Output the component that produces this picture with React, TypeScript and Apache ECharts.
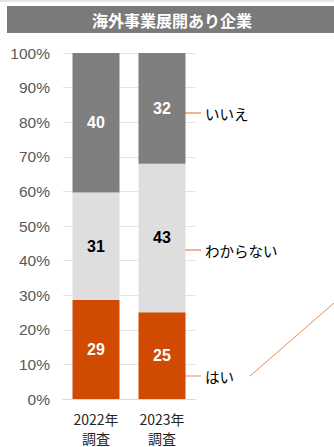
import React, { useEffect, useRef } from "react";
import * as echarts from "echarts";

const categories = ["2022年\n調査", "2023年\n調査"];
const yesValues = [28.6, 25.1];
const unknownValues = [31.1, 42.9];
const noValues = [40.3, 32.0];
const seriesNames = ["はい", "わからない", "いいえ"];
const title = "海外事業展開あり企業";

const JP = "'Noto Sans CJK JP', 'Liberation Sans', sans-serif";
const LAT = "'Liberation Sans', Arial, sans-serif";

export default function App() {
  const ref = useRef<HTMLDivElement>(null);
  useEffect(() => {
    if (!ref.current) return;
    const chart = echarts.init(ref.current, null, { renderer: "svg" });
    const mk = (name: string, data: number[], color: string, labelColor: string) => ({
      name,
      type: "bar",
      stack: "total",
      data,
      barWidth: 47,
      itemStyle: { color },
      label: {
        show: true,
        position: "inside",
        color: labelColor,
        fontFamily: LAT,
        fontWeight: "bold",
        fontSize: 16,
        formatter: (p: any) => String(Math.round(p.value)),
      },
    });
    chart.setOption({
      animation: false,
      grid: { left: 63, right: 139, top: 53, bottom: 44 },
      xAxis: {
        type: "category",
        data: categories,
        axisTick: { show: false },
        axisLine: { lineStyle: { color: "#d9d9d9" } },
        axisLabel: {
          color: "#262626",
          fontFamily: JP,
          fontSize: 14,
          lineHeight: 19,
          margin: 10,
        },
      },
      yAxis: {
        type: "value",
        min: 0,
        max: 100,
        interval: 10,
        axisLabel: {
          formatter: "{value}%",
          color: "#595959",
          fontFamily: LAT,
          fontSize: 15.5,
          margin: 13,
        },
        splitLine: { lineStyle: { color: "#e3e3e3" } },
      },
      series: [
        mk(seriesNames[0], yesValues, "#d04a02", "#ffffff"),
        mk(seriesNames[1], unknownValues, "#dedede", "#000000"),
        mk(seriesNames[2], noValues, "#7f7f7f", "#ffffff"),
      ],
      graphic: [
        { type: "rect", shape: { x: 0, y: 0, width: 334, height: 2 }, style: { fill: "#e4e4e4" } },
        { type: "rect", shape: { x: 7, y: 6, width: 327, height: 27 }, style: { fill: "#7a7a7a" } },
        {
          type: "text",
          x: 172,
          y: 19.5,
          style: {
            text: title,
            fill: "#ffffff",
            font: `bold 16px ${JP}`,
            align: "center",
            verticalAlign: "middle",
          },
        },
        { type: "line", shape: { x1: 179, y1: 113, x2: 201, y2: 113 }, style: { stroke: "#ea8a5e", lineWidth: 1.3 } },
        { type: "line", shape: { x1: 179, y1: 250, x2: 201, y2: 250 }, style: { stroke: "#ea8a5e", lineWidth: 1.3 } },
        { type: "line", shape: { x1: 179, y1: 376, x2: 201, y2: 376 }, style: { stroke: "#f0b090", lineWidth: 1.5 } },
        { type: "line", shape: { x1: 250, y1: 376, x2: 334, y2: 303 }, style: { stroke: "#ea8a5e", lineWidth: 1 } },
        {
          type: "text", x: 205, y: 113,
          style: { text: seriesNames[2], fill: "#000", font: `14.5px ${JP}`, verticalAlign: "middle" },
        },
        {
          type: "text", x: 205, y: 250,
          style: { text: seriesNames[1], fill: "#000", font: `14.5px ${JP}`, verticalAlign: "middle" },
        },
        {
          type: "text", x: 205, y: 376,
          style: { text: seriesNames[0], fill: "#000", font: `14.5px ${JP}`, verticalAlign: "middle" },
        },
      ],
    });
    return () => chart.dispose();
  }, []);
  return (
    <div
      ref={ref}
      style={{ position: "fixed", left: 0, top: 0, width: 334, height: 447, background: "#fff" }}
    />
  );
}
